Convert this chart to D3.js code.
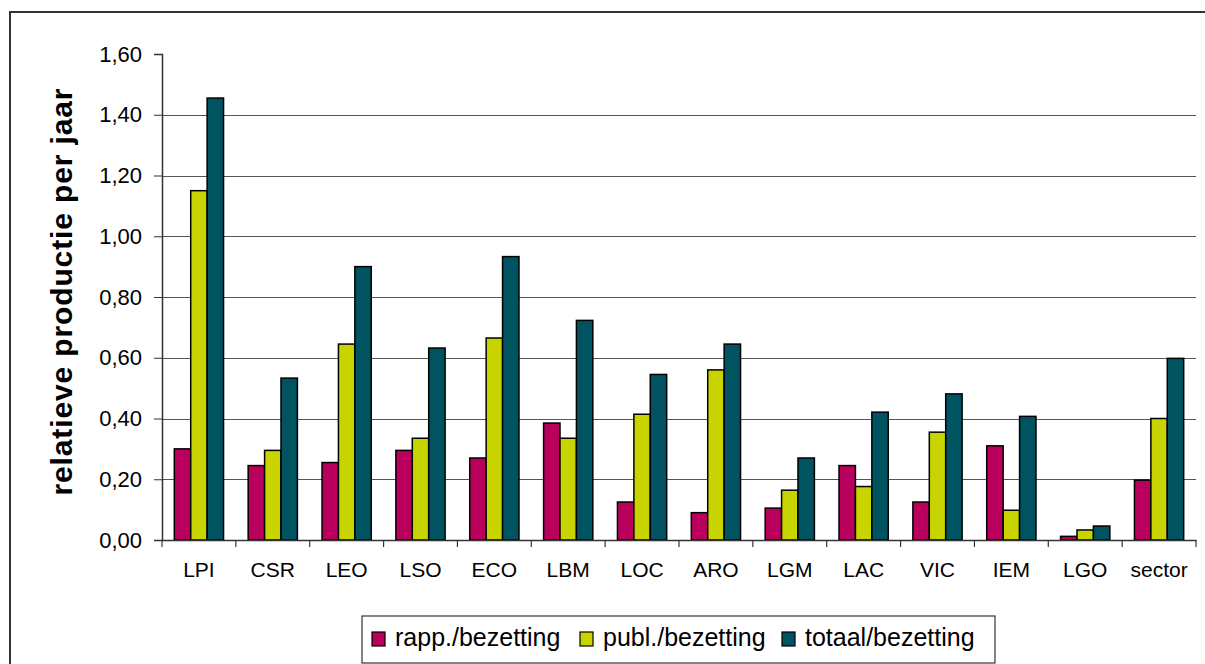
<!DOCTYPE html>
<html>
<head>
<meta charset="utf-8">
<script src="https://cdn.jsdelivr.net/npm/d3@7"></script>
<style>
  html, body { margin: 0; padding: 0; background: #fff; }
  svg { display: block; font-family: "Liberation Sans", Arial, sans-serif; }
</style>
</head>
<body>
<svg id="chart" width="1205" height="664"></svg>
<script>
const categories = ["LPI","CSR","LEO","LSO","ECO","LBM","LOC","ARO","LGM","LAC","VIC","IEM","LGO","sector"];
const seriesNames = ["rapp./bezetting","publ./bezetting","totaal/bezetting"];
const rapp   = [0.30,0.245,0.255,0.295,0.27,0.385,0.125,0.09,0.105,0.245,0.125,0.31,0.012,0.197];
const publ   = [1.15,0.295,0.645,0.335,0.665,0.335,0.414,0.56,0.164,0.176,0.355,0.098,0.033,0.40];
const totaal = [1.455,0.533,0.90,0.632,0.933,0.723,0.545,0.645,0.27,0.421,0.481,0.407,0.046,0.598];
const yTickValues = [0,0.2,0.4,0.6,0.8,1.0,1.2,1.4,1.6];
const yTitle = "relatieve productie per jaar";
const colors = ["#B8005C","#C8D400","#005461"];

const seriesValues = [rapp, publ, totaal];
const svg = d3.select("#chart");

// outer frame
svg.append("rect").attr("x",10).attr("y",12).attr("width",1220).attr("height",700)
  .attr("fill","none").attr("stroke","#333").attr("stroke-width",2);

const pLeft = 162, pRight = 1196, pTop = 54, pBottom = 540;
const x = d3.scaleBand().domain(categories).range([pLeft, pRight]).paddingInner(0).paddingOuter(0);
const xs = d3.scaleBand().domain(seriesNames).range([0, x.bandwidth()]).paddingInner(0).paddingOuter(0.75);
const y = d3.scaleLinear().domain([0, 1.6]).range([pBottom, pTop]);
const fmt = v => d3.format(".2f")(v).replace(".", ",");

// gridlines (not at top)
svg.append("g").selectAll("line").data(yTickValues.filter(v => v > 0 && v < 1.6)).join("line")
  .attr("x1", pLeft).attr("x2", pRight)
  .attr("y1", d => Math.round(y(d)) + 0.5).attr("y2", d => Math.round(y(d)) + 0.5)
  .attr("stroke", "#555").attr("stroke-width", 1);

// bars
const data = [];
categories.forEach((c, i) => seriesNames.forEach((s, j) => data.push({c, s, v: seriesValues[j][i], j})));
svg.append("g").selectAll("rect").data(data).join("rect")
  .attr("x", d => x(d.c) + xs(d.s))
  .attr("y", d => y(d.v))
  .attr("width", xs.bandwidth())
  .attr("height", d => y(0) - y(d.v))
  .attr("fill", d => colors[d.j])
  .attr("stroke", "#000").attr("stroke-width", 1.5);

// y axis
const yAxis = d3.axisLeft(y).tickValues(yTickValues).tickFormat(fmt).tickSize(8).tickPadding(12);
const gy = svg.append("g").attr("transform", `translate(${pLeft},0)`).call(yAxis);
gy.select(".domain").attr("stroke", "#333").attr("stroke-width", 1.5);
gy.selectAll(".tick line").attr("stroke", "#333");
gy.selectAll(".tick text").attr("font-size", 22).attr("fill", "#000")
  .attr("font-family", '"Liberation Sans", Arial, sans-serif');

// x axis
const xAxis = d3.axisBottom(x).tickSize(0).tickPadding(22);
const gx = svg.append("g").attr("transform", `translate(0,${pBottom})`).call(xAxis);
gx.select(".domain").attr("stroke", "#333").attr("stroke-width", 1.5);
gx.selectAll(".tick text").attr("font-size", 21).attr("fill", "#000")
  .attr("font-family", '"Liberation Sans", Arial, sans-serif');
// category boundary ticks
const bounds = categories.map(c => x(c)).concat([pRight]);
svg.append("g").selectAll("line").data(bounds).join("line")
  .attr("x1", d => d).attr("x2", d => d).attr("y1", pBottom).attr("y2", pBottom + 7)
  .attr("stroke", "#333").attr("stroke-width", 1.2);

// y title
svg.append("text")
  .attr("transform", `translate(72,${(pTop + pBottom) / 2 - 5}) rotate(-90)`)
  .attr("text-anchor", "middle")
  .attr("font-size", 30).attr("font-weight", "bold")
  .attr("textLength", 407).attr("lengthAdjust", "spacing")
  .text(yTitle);

// legend
const lg = svg.append("g");
lg.append("rect").attr("x", 362).attr("y", 616).attr("width", 633).attr("height", 47)
  .attr("fill", "#fff").attr("stroke", "#333").attr("stroke-width", 1.2);
const legX = [372, 580, 782];
seriesNames.forEach((s, j) => {
  lg.append("rect").attr("x", legX[j]).attr("y", 632).attr("width", 13).attr("height", 14)
    .attr("fill", colors[j]).attr("stroke", "#000").attr("stroke-width", 1.2);
  lg.append("text").attr("x", legX[j] + 23).attr("y", 646)
    .attr("font-size", 25).attr("fill", "#000").text(s);
});
</script>
</body>
</html>
